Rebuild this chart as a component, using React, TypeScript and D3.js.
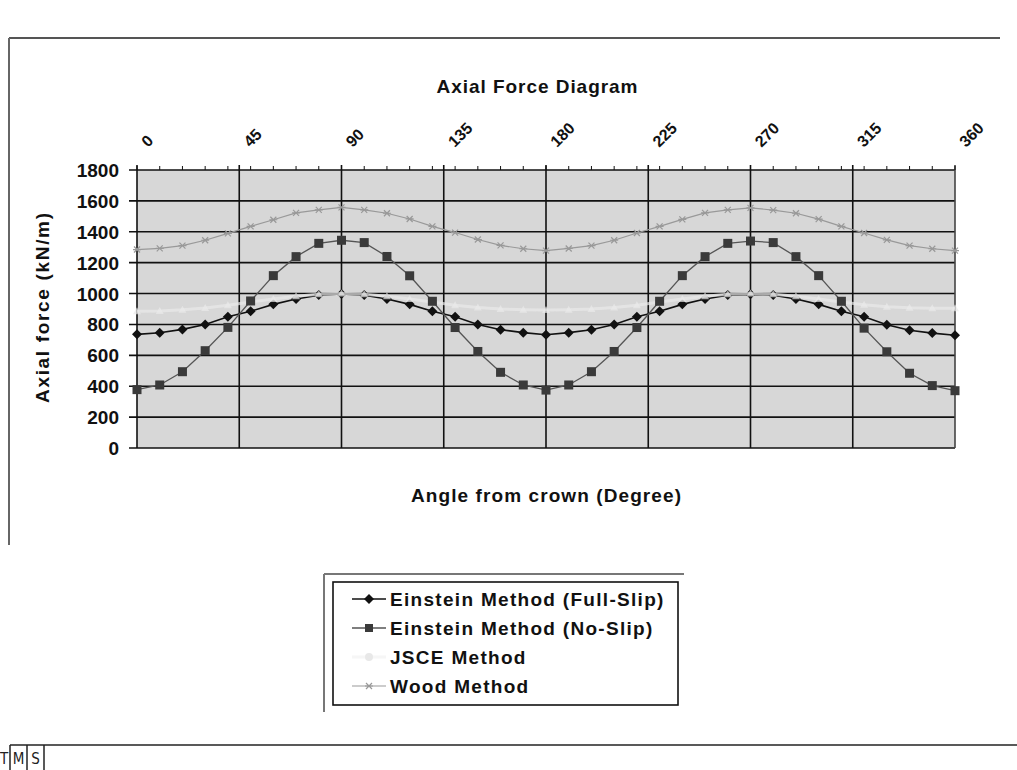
import React from "react";
import * as d3 from "d3";

const angles = [0, 10, 20, 30, 40, 50, 60, 70, 80, 90, 100, 110, 120, 130, 140, 150, 160, 170, 180,
  190, 200, 210, 220, 230, 240, 250, 260, 270, 280, 290, 300, 310, 320, 330, 340, 350, 360];

const fullSlip = [736, 746, 768, 800, 850, 885, 930, 965, 990, 997, 990, 965, 930, 885, 850, 800, 766, 747, 733,
  747, 766, 800, 850, 885, 930, 965, 990, 995, 990, 965, 930, 885, 850, 798, 762, 744, 730];

const noSlip = [378, 408, 494, 630, 781, 952, 1116, 1239, 1325, 1345, 1330, 1240, 1115, 950, 780, 625, 490, 408, 375,
  408, 494, 625, 780, 950, 1116, 1239, 1325, 1340, 1330, 1239, 1116, 950, 776, 623, 484, 404, 371];

const jsce = [885, 887, 895, 907, 925, 945, 965, 982, 995, 1000, 995, 982, 965, 945, 925, 910, 900, 895, 893,
  895, 900, 910, 925, 945, 965, 982, 995, 1000, 995, 982, 965, 945, 928, 915, 908, 905, 905];

const wood = [1285, 1293, 1310, 1345, 1390, 1435, 1478, 1522, 1542, 1558, 1542, 1520, 1483, 1435, 1395, 1350, 1312, 1290, 1278,
  1292, 1310, 1345, 1392, 1435, 1480, 1522, 1542, 1555, 1540, 1520, 1482, 1435, 1392, 1348, 1310, 1290, 1278];

const topTicks = [0, 45, 90, 135, 180, 225, 270, 315, 360];
const yTicks = [0, 200, 400, 600, 800, 1000, 1200, 1400, 1600, 1800];

const seriesNames = [
  "Einstein Method (Full-Slip)",
  "Einstein Method (No-Slip)",
  "JSCE Method",
  "Wood Method",
];

const titleText = "Axial Force Diagram";
const xTitle = "Angle from crown (Degree)";
const yTitle = "Axial force (kN/m)";
const bottomTabs = ["T", "M", "S"];

const FONT = "'Liberation Sans', Arial, sans-serif";

function Diamond({ cx, cy, r, fill }: { cx: number; cy: number; r: number; fill: string }) {
  return <path d={`M${cx},${cy - r}L${cx + r},${cy}L${cx},${cy + r}L${cx - r},${cy}Z`} fill={fill} />;
}

function Square({ cx, cy, s, fill }: { cx: number; cy: number; s: number; fill: string }) {
  return <rect x={cx - s / 2} y={cy - s / 2} width={s} height={s} fill={fill} />;
}

function Star({ cx, cy, r, stroke }: { cx: number; cy: number; r: number; stroke: string }) {
  return (
    <path
      d={`M${cx - r},${cy - r}L${cx + r},${cy + r}M${cx - r},${cy + r}L${cx + r},${cy - r}M${cx - r - 1},${cy}L${cx + r + 1},${cy}`}
      stroke={stroke}
      strokeWidth={1.2}
      fill="none"
    />
  );
}

export default function App() {
  const x = d3.scaleLinear().domain([0, 360]).range([137, 955]);
  const y = d3.scaleLinear().domain([0, 1800]).range([448, 170]);

  const line = (vals: number[]) =>
    d3
      .line<number>()
      .x((_, i) => x(angles[i]))
      .y((v) => y(v))(vals) as string;

  const plotLeft = x(0);
  const plotRight = x(360);
  const plotTop = y(1800);
  const plotBottom = y(0);

  const fullColor = "#111";
  const noColor = "#3a3a3a";
  const noLine = "#555";
  const jsceColor = "#e9e9e9";
  const woodColor = "#999";

  const legendX = 352;
  const legendTextX = 390;
  const legendRows = [599, 628, 657, 686];

  return (
    <svg
      width={1017}
      height={770}
      style={{ position: "fixed", left: 0, top: 0, background: "#fff" }}
      fontFamily={FONT}
    >
      <rect x={0} y={0} width={1017} height={770} fill="#fff" />

      {/* chart area frame */}
      <line x1={9} y1={38} x2={1000} y2={38} stroke="#555" strokeWidth={2} />
      <line x1={9} y1={38} x2={9} y2={545} stroke="#666" strokeWidth={2} />

      {/* title */}
      <text x={537} y={93} textAnchor="middle" fontSize={19} fontWeight="bold" textLength={201} lengthAdjust="spacing" fill="#111">
        {titleText}
      </text>

      {/* plot background */}
      <rect x={plotLeft} y={plotTop} width={plotRight - plotLeft} height={plotBottom - plotTop} fill="#d7d7d7" />

      {/* horizontal gridlines */}
      {yTicks.map((t) => (
        <line key={"h" + t} x1={plotLeft - 8} x2={plotRight} y1={y(t)} y2={y(t)} stroke="#111" strokeWidth={1.6} />
      ))}
      {/* vertical gridlines */}
      {topTicks.map((t) => (
        <line key={"v" + t} x1={x(t)} x2={x(t)} y1={plotTop - 5} y2={plotBottom} stroke={t === 360 ? "#444" : "#111"} strokeWidth={1.6} />
      ))}
      {/* minor top ticks */}
      {angles.map((a) => (
        <line key={"m" + a} x1={x(a)} x2={x(a)} y1={plotTop - 4} y2={plotTop} stroke="#111" strokeWidth={1} />
      ))}

      {/* y tick labels */}
      {yTicks.map((t) => (
        <text key={"yl" + t} x={119} y={y(t) + 7} textAnchor="end" fontSize={19} fontWeight="bold" fill="#111">
          {t}
        </text>
      ))}

      {/* top tick labels */}
      {topTicks.map((t) => (
        <text
          key={"tl" + t}
          transform={`translate(${x(t) + 11},148) rotate(-45)`}
          fontSize={16}
          fontWeight="bold"
          fill="#111"
        >
          {t}
        </text>
      ))}

      {/* series: full slip */}
      <path d={line(fullSlip)} fill="none" stroke={fullColor} strokeWidth={1.6} />
      {fullSlip.map((v, i) => (
        <Diamond key={"fd" + i} cx={x(angles[i])} cy={y(v)} r={5} fill={fullColor} />
      ))}

      {/* JSCE */}
      <path d={line(jsce)} fill="none" stroke={jsceColor} strokeWidth={3} opacity={0.7} />
      {jsce.map((v, i) => (
        <path
          key={"jd" + i}
          d={`M${x(angles[i])},${y(v) - 4}L${x(angles[i]) + 4},${y(v) + 3}L${x(angles[i]) - 4},${y(v) + 3}Z`}
          fill={jsceColor}
          opacity={0.7}
        />
      ))}

      {/* no slip */}
      <path d={line(noSlip)} fill="none" stroke={noLine} strokeWidth={1.3} />
      {noSlip.map((v, i) => (
        <Square key={"ns" + i} cx={x(angles[i])} cy={y(v)} s={9} fill={noColor} />
      ))}

      {/* wood */}
      <path d={line(wood)} fill="none" stroke={woodColor} strokeWidth={1.2} />
      {wood.map((v, i) => (
        <Star key={"wd" + i} cx={x(angles[i])} cy={y(v)} r={3} stroke={woodColor} />
      ))}

      {/* axis titles */}
      <text x={546} y={502} textAnchor="middle" fontSize={19} fontWeight="bold" textLength={270} lengthAdjust="spacing" fill="#111">
        {xTitle}
      </text>
      <text
        transform={`translate(49,308) rotate(-90)`}
        textAnchor="middle"
        fontSize={19}
        fontWeight="bold"
        textLength={190}
        lengthAdjust="spacing"
        fill="#111"
      >
        {yTitle}
      </text>

      {/* legend */}
      <line x1={324} y1={574} x2={684} y2={574} stroke="#777" strokeWidth={2} />
      <line x1={324} y1={574} x2={324} y2={712} stroke="#777" strokeWidth={2} />
      <rect x={333} y={582} width={345} height={123} fill="#fff" stroke="#111" strokeWidth={1.6} />
      {seriesNames.map((name, i) => {
        const ry = legendRows[i];
        return (
          <g key={"lg" + i}>
            {i === 0 && (
              <>
                <line x1={legendX} x2={legendX + 34} y1={ry} y2={ry} stroke={fullColor} strokeWidth={1.6} />
                <Diamond cx={legendX + 17} cy={ry} r={5} fill={fullColor} />
              </>
            )}
            {i === 1 && (
              <>
                <line x1={legendX} x2={legendX + 34} y1={ry} y2={ry} stroke={noLine} strokeWidth={1.4} />
                <Square cx={legendX + 17} cy={ry} s={8} fill={noColor} />
              </>
            )}
            {i === 2 && (
              <>
                <line x1={legendX} x2={legendX + 34} y1={ry} y2={ry} stroke="#f6f6f6" strokeWidth={3} />
                <circle cx={legendX + 17} cy={ry} r={4} fill="#e8e8e8" />
              </>
            )}
            {i === 3 && (
              <>
                <line x1={legendX} x2={legendX + 34} y1={ry} y2={ry} stroke={woodColor} strokeWidth={1.2} />
                <Star cx={legendX + 17} cy={ry} r={3} stroke={woodColor} />
              </>
            )}
            <text x={legendTextX} y={ry + 7} fontSize={19} fontWeight="bold" letterSpacing={1.3} fill="#111">
              {name}
            </text>
          </g>
        );
      })}

      {/* bottom tab strip */}
      <line x1={10} y1={745} x2={1017} y2={745} stroke="#222" strokeWidth={1.5} />
      {[10, 27, 44].map((xx) => (
        <line key={"tb" + xx} x1={xx} x2={xx} y1={745} y2={770} stroke="#222" strokeWidth={1.5} />
      ))}
      {bottomTabs.map((t, i) => (
        <text
          key={"tt" + t}
          x={[4, 18.5, 35.5][i]}
          y={764}
          textAnchor="middle"
          fontSize={15}
          fontFamily="'Liberation Sans Narrow', 'DejaVu Sans Condensed', sans-serif"
          fill="#222"
        >
          {t}
        </text>
      ))}
    </svg>
  );
}
